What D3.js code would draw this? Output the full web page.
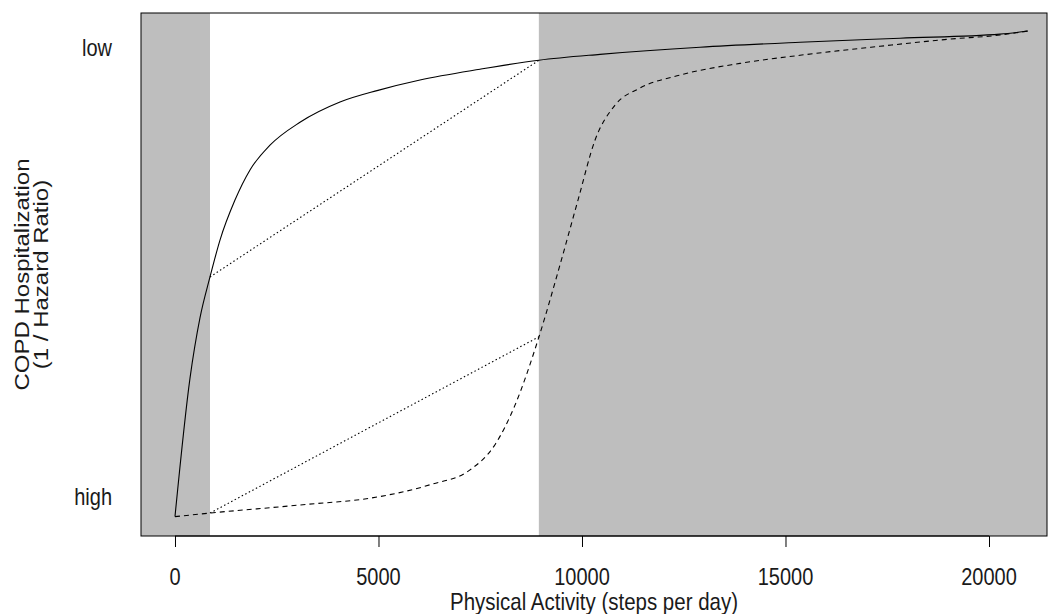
<!DOCTYPE html>
<html>
<head>
<meta charset="utf-8">
<script src="https://cdn.jsdelivr.net/npm/d3@7"></script>
<style>
  html, body { margin: 0; padding: 0; background: #fff; }
  svg { display: block; }
  text { font-family: "Liberation Sans", Arial, sans-serif; fill: #1a1a1a; }
</style>
</head>
<body>
<svg id="chart" width="1048" height="614"></svg>
<script>
// ---- data (steps per day vs. relative 1/HR scale: 0 = "high", 100 = "low") ----
const xTicks = [0, 5000, 10000, 15000, 20000];
const yTickValues = [0, 100];
const yTickLabels = ["high", "low"];

// shaded zones (steps)
const shadeLow = [-1000, 860];
const shadeHigh = [8940, 23000];

// solid curve
const solidX = [0, 369, 614, 860, 1106, 1474, 1843, 2334, 3071, 4054, 4988, 6020, 7494, 8943, 10442, 12899, 15356, 17813, 20270, 20958];
const solidY = [-4.4, 26.4, 39.8, 48.9, 57.1, 66, 72.7, 78.2, 83.3, 87.8, 90.4, 92.7, 95.1, 97.1, 98.4, 100, 101.1, 102, 102.9, 103.6];

// dashed curve
const dashedX = [0, 860, 3071, 4988, 6266, 7249, 7862, 8354, 8943, 9460, 9902, 10319, 10811, 11425, 12408, 13882, 15356, 17322, 19042, 20270, 20958];
const dashedY = [-4.4, -3.6, -1.8, 0, 2.7, 6, 11.6, 20.4, 35.6, 51.6, 66, 79.3, 87.1, 90.9, 93.8, 96.4, 98.2, 100.2, 101.8, 102.7, 103.6];

// dotted straight segments
const dottedUpperX = [860, 8943];
const dottedUpperY = [48.9, 97.1];
const dottedLowerX = [860, 8943];
const dottedLowerY = [-3.6, 35.6];

// ---- layout ----
const svg = d3.select("#chart");
const L = 141, R = 1047, T = 13, B = 536;
const FS = 20, VS = 1.2;   // font size and vertical stretch of the text

const x = d3.scaleLinear().domain([-835, 21425]).range([L, R]);
const y = d3.scaleLinear().domain([-8.7, 107.6]).range([B, T]);

svg.append("defs").append("clipPath").attr("id", "plotclip")
  .append("rect").attr("x", L).attr("y", T).attr("width", R - L).attr("height", B - T);

const plot = svg.append("g").attr("clip-path", "url(#plotclip)");

[shadeLow, shadeHigh].forEach(s => {
  plot.append("rect")
    .attr("x", x(s[0])).attr("y", T)
    .attr("width", x(s[1]) - x(s[0])).attr("height", B - T)
    .attr("fill", "#bebebe");
});

function drawLine(xs, ys, dash, curve) {
  const pts = xs.map((v, i) => [v, ys[i]]);
  plot.append("path")
    .attr("d", d3.line().x(d => x(d[0])).y(d => y(d[1])).curve(curve)(pts))
    .attr("fill", "none")
    .attr("stroke", "#000")
    .attr("stroke-width", 1.1)
    .attr("stroke-dasharray", dash);
}

drawLine(dottedUpperX, dottedUpperY, "1.5 2.5", d3.curveLinear);
drawLine(dottedLowerX, dottedLowerY, "1.5 2.5", d3.curveLinear);
drawLine(dashedX, dashedY, "5 4", d3.curveMonotoneX);
drawLine(solidX, solidY, null, d3.curveMonotoneX);

// box
svg.append("rect").attr("x", L).attr("y", T).attr("width", R - L).attr("height", B - T)
  .attr("fill", "none").attr("stroke", "#000").attr("stroke-width", 1);

// x axis (ticks via d3 axis, labels drawn with vertical stretch)
const xAxis = d3.axisBottom(x).tickValues(xTicks).tickSize(11).tickFormat("");
const gx = svg.append("g").attr("transform", `translate(0,${B})`).call(xAxis);
gx.select(".domain").attr("d", `M${x(xTicks[0])},0H${x(xTicks[xTicks.length-1])}`).attr("stroke", "#000");
gx.selectAll(".tick line").attr("stroke", "#000");

svg.append("g").selectAll("text").data(xTicks).join("text")
  .attr("transform", d => `translate(${x(d)},585) scale(1,${VS})`)
  .attr("text-anchor", "middle").attr("font-size", FS)
  .text(d => d3.format("d")(d));

// y axis labels (no ticks)
svg.append("g").selectAll("text").data(yTickValues).join("text")
  .attr("transform", d => `translate(112,${y(d) + 8.5}) scale(1,${VS})`)
  .attr("text-anchor", "end").attr("font-size", FS)
  .text((d, i) => yTickLabels[i]);

// titles
svg.append("text").attr("transform", `translate(${(L + R) / 2},610) scale(1,${VS})`)
  .attr("text-anchor", "middle").attr("font-size", FS + 0.5)
  .text("Physical Activity (steps per day)");

const yt = svg.append("text")
  .attr("transform", `translate(0,${(T + B) / 2}) rotate(-90) scale(${VS},1)`)
  .attr("text-anchor", "middle").attr("font-size", FS);
yt.append("tspan").attr("x", 0).attr("y", 29).text("COPD Hospitalization");
yt.append("tspan").attr("x", 0).attr("y", 48).text("(1 / Hazard Ratio)");
</script>
</body>
</html>
